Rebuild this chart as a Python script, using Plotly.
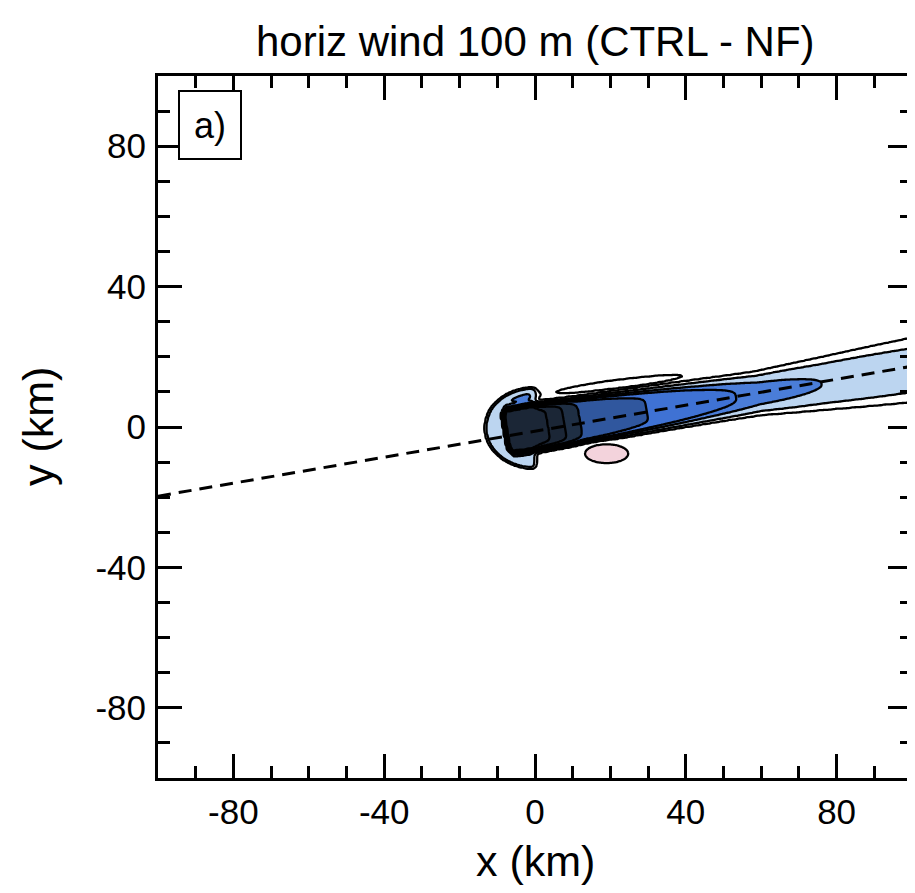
import numpy as np
import plotly.graph_objects as go

# ---------------- data ----------------
title_text = "horiz wind 100 m (CTRL - NF)"
x_title = "x (km)"
y_title = "y (km)"
panel_label = "a)"
x_range = [-100, 100]
y_range = [-100, 100]
major_ticks = [-80, -40, 0, 40, 80]
tick_labels = ["-80", "-40", "0", "40", "80"]

# wake deficit (CTRL - NF, m/s) along the plume axis:
# distance along axis, depth, half-width, profile sharpness
wake_s = [-8.4, -6.8, 0, 7, 12, 20, 30, 45, 60, 77, 100, 115]
wake_amp = [0.0, 3.4, 3.4, 2.6, 2.0, 1.75, 1.6, 1.42, 1.22, 1.0, 0.8, 0.75]
wake_halfwidth = [4.8, 6.2, 6.5, 6.5, 6.4, 6.3, 6.0, 5.6, 5.3, 6.5, 8.4, 9.5]
wake_power = [8, 8, 8, 10, 10, 10, 8, 5, 3, 2.5, 2.5, 2.5]
wake_axis_y0 = -0.1
wake_axis_slope = 0.163

# weak deficit sliver on the upper flank of the wake
sliver_amp = 0.38
sliver_mid_s = 24.0
sliver_half_len = 26.0
sliver_offset = 2.5
sliver_width = 1.7

# upstream (induction) deficit around the farm
ind_amp = 0.9
ind_rx = 13.2
ind_ry = 11.5
ind_y0 = -0.3

# small speed-up patch south of the wake
pos_amp = 0.75
pos_x, pos_y = 19.0, -7.6
pos_rx, pos_ry = 7.2, 3.4

# dashed track line
track_x = [-100, 100]
track_y = [-19.7, 17.3]

# contour levels (m/s) and fill colours of the bands between them
level_values = [-3.0, -2.5, -2.0, -1.6, -1.3, -1.0, -0.5, -0.25, 0.5]
band_colors = ["#1b2636", "#1b2636", "#1f2f44",
               "#30579e", "#3f72d4", "#4a7dd8",
               "#bcd5f0", "#ffffff", "#ffffff", "#f3d3dc"]

# ---------------- build the field ----------------
gx = np.arange(-100, 100.01, 0.4)
gy = np.arange(-100, 100.01, 0.4)
X, Y = np.meshgrid(gx, gy)

th = np.arctan(wake_axis_slope)
S = X * np.cos(th) + (Y - wake_axis_y0) * np.sin(th)
N = -X * np.sin(th) + (Y - wake_axis_y0) * np.cos(th)
A = np.interp(S, wake_s, wake_amp, left=0.0, right=wake_amp[-1])
W = np.interp(S, wake_s, wake_halfwidth)
P = np.interp(S, wake_s, wake_power)
z = -A * np.exp(-np.abs(N / W) ** P)

win = np.exp(-((S - sliver_mid_s) / sliver_half_len) ** 2)
z += -sliver_amp * win * np.exp(-((N - (W + sliver_offset)) / sliver_width) ** 2)

r2 = (X / ind_rx) ** 2 + ((Y - ind_y0) / ind_ry) ** 2
z += -ind_amp * np.exp(-r2 ** 12) / (1.0 + np.exp(X / 0.5))

p2 = ((X - pos_x) / pos_rx) ** 2 + ((Y - pos_y) / pos_ry) ** 2
z += pos_amp * np.exp(-p2 ** 2)

ext = [-4.5] + level_values + [1.5]
zi = np.interp(z, ext, np.arange(len(ext)))

nb = len(band_colors)
bounds = [0.0] + [(2 * k + 1) / (2 * (nb - 1)) for k in range(nb - 1)] + [1.0]
cscale = []
for i, c in enumerate(band_colors):
    cscale.append([bounds[i], c])
    cscale.append([bounds[i + 1], c])

fig = go.Figure()
fig.add_trace(go.Contour(
    x=gx, y=gy, z=zi,
    contours=dict(start=1, end=len(level_values), size=1, coloring="fill"),
    colorscale=cscale, showscale=False,
    line=dict(color="black", width=2.3),
    hoverinfo="skip",
))
fig.add_trace(go.Scatter(
    x=track_x, y=track_y, mode="lines",
    line=dict(color="black", width=3, dash="13px,8px"),
    hoverinfo="skip", showlegend=False,
))

font_main = "Liberation Sans, Arial, sans-serif"
axis_common = dict(
    tickmode="array", tickvals=major_ticks, ticktext=tick_labels,
    ticks="inside", ticklen=24, tickwidth=3, tickcolor="black",
    minor=dict(dtick=10, tick0=0, ticks="inside", ticklen=12, tickwidth=3, tickcolor="black"),
    showline=True, linecolor="black", linewidth=3, mirror="ticks",
    showgrid=False, zeroline=False, automargin=False,
    tickfont=dict(family=font_main, size=35, color="black"),
)
fig.update_xaxes(range=x_range, ticklabelstandoff=1, **axis_common)
fig.update_yaxes(range=y_range, ticklabelstandoff=2, **axis_common)

# the page body adds an 8 px offset, so the figure is 8 px smaller than the window
fig.update_layout(
    width=907, height=885,
    margin=dict(l=150, r=3, t=68, b=115),
    plot_bgcolor="white", paper_bgcolor="white",
    showlegend=False,
    annotations=[
        dict(text=title_text, xref="paper", yref="paper", x=0.5, y=1.0, yshift=35,
             showarrow=False, font=dict(family=font_main, size=42, color="black"),
             xanchor="center", yanchor="middle"),
        dict(text=x_title, xref="paper", yref="paper", x=0.5, y=0.0, yshift=-83,
             showarrow=False, font=dict(family=font_main, size=43, color="black"),
             xanchor="center", yanchor="middle"),
        dict(text=y_title, xref="paper", yref="paper", x=0.0, y=0.5, xshift=-120,
             textangle=-90, showarrow=False, font=dict(family=font_main, size=43, color="black"),
             xanchor="center", yanchor="middle"),
        dict(text=panel_label, xref="paper", yref="paper", x=0.069, y=0.930,
             showarrow=False, font=dict(family=font_main, size=36, color="black"),
             xanchor="center", yanchor="middle", width=60, height=66,
             bordercolor="black", borderwidth=2, borderpad=0, bgcolor="white"),
    ],
)

fig.write_html("out.html")
